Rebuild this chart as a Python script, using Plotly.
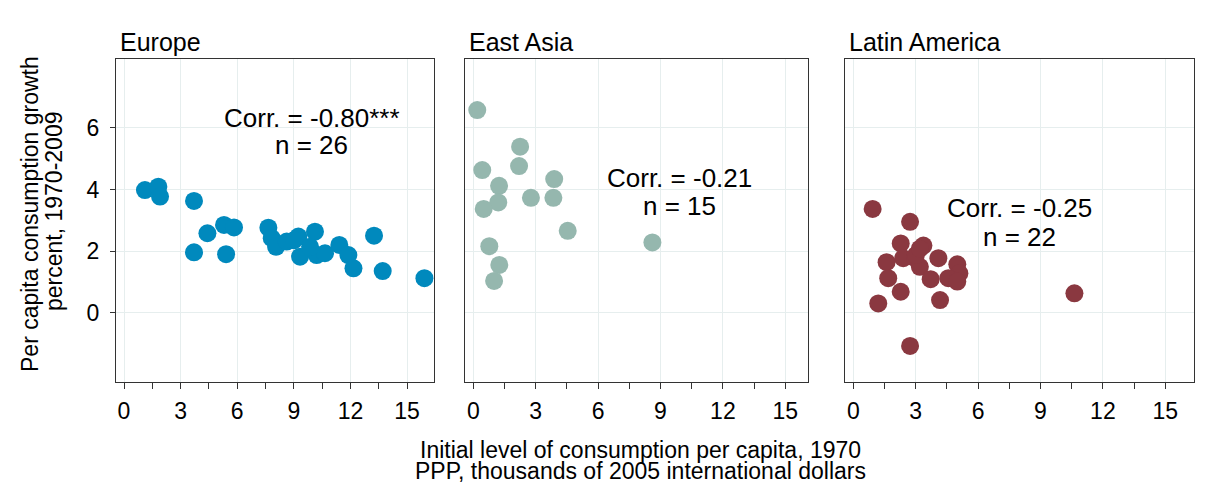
import plotly.graph_objects as go

# ---- data ----
panels = ["Europe", "East Asia", "Latin America"]

europe_x = [1.11, 1.82, 1.91, 3.71, 3.71, 4.42, 5.30, 5.83, 5.41, 7.65, 7.83, 8.06, 8.62,
            9.24, 9.33, 10.12, 10.21, 10.65, 11.41, 11.89, 12.16, 13.25, 13.71, 15.92, 9.86, 9.00]
europe_y = [3.98, 4.09, 3.77, 3.63, 1.96, 2.58, 2.85, 2.77, 1.90, 2.76, 2.42, 2.14, 2.31,
            2.47, 1.82, 2.63, 1.87, 1.93, 2.20, 1.87, 1.44, 2.50, 1.35, 1.12, 2.14, 2.35]

easia_x = [0.19, 2.25, 2.20, 0.43, 1.24, 1.20, 0.50, 2.77, 3.89, 3.85, 4.54, 0.77, 1.25, 1.00, 8.61]
easia_y = [6.58, 5.39, 4.76, 4.63, 4.12, 3.58, 3.37, 3.73, 4.34, 3.73, 2.66, 2.16, 1.55, 1.03, 2.28]

latam_x = [0.93, 2.73, 2.28, 3.37, 1.60, 2.40, 2.97, 3.20, 4.09, 1.68, 3.72, 5.00, 5.10, 4.57,
           5.00, 2.28, 4.17, 1.20, 2.73, 10.63, 3.01, 3.20]
latam_y = [3.37, 2.95, 2.25, 2.18, 1.64, 1.77, 1.77, 1.49, 1.77, 1.12, 1.09, 1.57, 1.28, 1.12,
           1.01, 0.68, 0.41, 0.30, -1.08, 0.63, 1.87, 2.08]

corr_labels = ["Corr. = -0.80***", "Corr. = -0.21", "Corr. = -0.25"]
n_labels = ["n = 26", "n = 15", "n = 22"]

x_ticks = [0, 3, 6, 9, 12, 15]
y_ticks = [0, 2, 4, 6]

colors = ["#0089bd", "#95b7ae", "#8a3840"]

W, H = 1207, 483
FONT = "Liberation Sans, Arial, Helvetica, sans-serif"

# panel pixel boxes (left, right)
boxes = [(116, 434), (465, 808), (845, 1194)]
zero_px = [124, 473.3, 853.3]
ppu = [18.87, 20.8, 20.8]
top_px, bot_px = 59, 381.7
y0_px, ppu_y = 312.7, 30.8

fig = go.Figure()
data = [(europe_x, europe_y), (easia_x, easia_y), (latam_x, latam_y)]
for i, (xs, ys) in enumerate(data):
    sfx = "" if i == 0 else str(i + 1)
    fig.add_trace(go.Scatter(
        x=xs, y=ys, mode="markers", xaxis="x" + sfx, yaxis="y" + sfx,
        marker=dict(size=18, color=colors[i], line=dict(width=0)),
        showlegend=False, hoverinfo="skip"))

layout = dict(width=W, height=H, margin=dict(l=0, r=0, t=0, b=0),
              paper_bgcolor="white", plot_bgcolor="white",
              font=dict(family=FONT, color="black"))

yrange = [(y0_px - bot_px) / ppu_y, (y0_px - top_px) / ppu_y]
ydom = [1 - bot_px / H, 1 - top_px / H]
grid_col = "#e6eeee"
annotations = []
for i in range(3):
    sfx = "" if i == 0 else str(i + 1)
    l, r = boxes[i]
    xr = [(l - zero_px[i]) / ppu[i], (r - zero_px[i]) / ppu[i]]
    layout["xaxis" + sfx] = dict(
        domain=[l / W, r / W], range=xr, anchor="y" + sfx,
        tickvals=x_ticks, ticktext=[str(v) for v in x_ticks],
        ticks="outside", ticklen=6, tickcolor="#333333", tickwidth=1,
        minor=dict(dtick=1.5, tick0=0, ticks="outside", ticklen=6, tickcolor="#333333", showgrid=False),
        showgrid=True, gridcolor=grid_col, gridwidth=1, zeroline=False,
        showline=True, mirror=True, linecolor="#333333", linewidth=1,
        tickfont=dict(size=23, family=FONT), ticklabelstandoff=3, fixedrange=True)
    layout["yaxis" + sfx] = dict(
        domain=ydom, range=yrange, anchor="x" + sfx,
        tickvals=y_ticks, ticktext=[str(v) for v in y_ticks],
        ticks="outside" if i == 0 else "", ticklen=5, tickcolor="#333333",
        showticklabels=(i == 0),
        showgrid=True, gridcolor=grid_col, gridwidth=1, zeroline=False,
        showline=True, mirror=True, linecolor="#333333", linewidth=1,
        tickfont=dict(size=23, family=FONT), ticklabelstandoff=6, fixedrange=True)
    # panel title
    annotations.append(dict(text=panels[i], xref="paper", yref="paper",
                            x=(l + 2) / W, y=1 - 42 / H, xanchor="left", yanchor="middle",
                            showarrow=False, font=dict(size=25, family=FONT)))

corr_pos = [(9.94, 6.33, 5.44), (9.92, 4.36, 3.47), (8.01, 3.39, 2.47)]
for i in range(3):
    sfx = "" if i == 0 else str(i + 1)
    cx, cy1, cy2 = corr_pos[i]
    annotations.append(dict(text=corr_labels[i], xref="x" + sfx, yref="y" + sfx,
                            x=cx, y=cy1, xanchor="center", yanchor="middle", showarrow=False,
                            font=dict(size=26, family=FONT)))
    annotations.append(dict(text=n_labels[i], xref="x" + sfx, yref="y" + sfx,
                            x=cx, y=cy2, xanchor="center", yanchor="middle", showarrow=False,
                            font=dict(size=26, family=FONT)))

# axis titles
annotations.append(dict(text="Initial level of consumption per capita, 1970", xref="paper", yref="paper",
                        x=640 / W, y=1 - 450 / H, xanchor="center", yanchor="middle",
                        showarrow=False, font=dict(size=23, family=FONT)))
annotations.append(dict(text="PPP, thousands of 2005 international dollars", xref="paper", yref="paper",
                        x=640 / W, y=1 - 471 / H, xanchor="center", yanchor="middle",
                        showarrow=False, font=dict(size=23, family=FONT)))
annotations.append(dict(text="Per capita consumption growth", xref="paper", yref="paper",
                        x=30 / W, y=1 - 214 / H, xanchor="center", yanchor="middle", textangle=-90,
                        showarrow=False, font=dict(size=23, family=FONT)))
annotations.append(dict(text="percent, 1970-2009", xref="paper", yref="paper",
                        x=54 / W, y=1 - 211 / H, xanchor="center", yanchor="middle", textangle=-90,
                        showarrow=False, font=dict(size=23, family=FONT)))

layout["annotations"] = annotations
fig.update_layout(**layout)
fig.write_html("out.html", config={"displayModeBar": False},
               post_script="document.body.style.margin='0';document.body.style.overflow='hidden';")
